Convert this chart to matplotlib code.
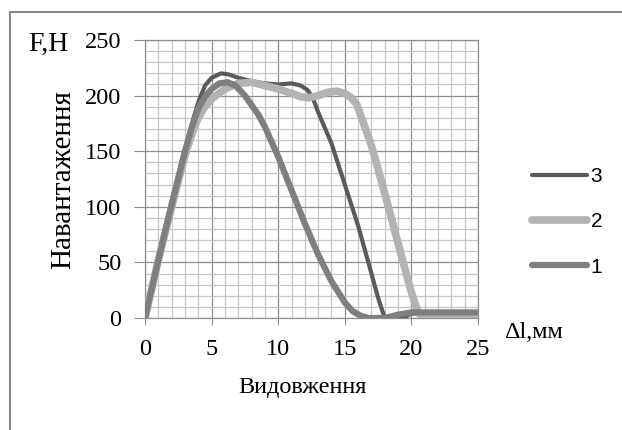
import matplotlib
matplotlib.use("Agg")
import matplotlib.pyplot as plt
from matplotlib.ticker import MultipleLocator

# series (x in mm, y in N)
x3 = [0, 1, 2, 3, 3.5, 4, 4.5, 5, 5.7, 6.3, 7, 8, 9, 10, 11, 11.7, 12.2, 12.6, 13, 14, 15, 16, 17, 17.5, 18, 18.7, 19.5, 20, 21, 25]
y3 = [0, 52, 102, 150, 174, 194, 209, 216, 220, 219, 216, 213, 211, 210, 211, 209, 205, 198, 185, 157, 120, 83, 40, 18, 0, -2, 1, 4, 5, 5]

x2 = [0, 1, 2, 3, 3.5, 4, 4.5, 5, 6, 7, 8, 9, 10, 11, 11.7, 12.3, 13, 13.7, 14.4, 15, 15.5, 15.9, 16.5, 17, 17.5, 18, 18.5, 19, 19.5, 20, 20.5, 20.8, 21.5, 24.5, 25]
y2 = [0, 52, 100, 146, 165, 180, 190, 197, 206, 211, 212, 209, 206, 202, 199, 198, 200, 203, 204, 202, 198, 192, 172, 155, 134, 112, 90, 67, 45, 23, 5, 1, 3, 3, 0]

x1 = [0, 1, 2, 3, 3.5, 4, 4.5, 5, 5.6, 6.2, 6.8, 7.5, 8.5, 9, 10, 11, 12, 13, 14, 15, 15.6, 16.2, 16.8, 18, 19, 20, 25]
y1 = [0, 52, 102, 150, 171, 188, 199, 206, 211, 212, 209, 200, 183, 172, 145, 115, 85, 57, 33, 14, 6, 2, 0, 0, 3, 5, 5]

series_names = ["3", "2", "1"]

fig = plt.figure(figsize=(6.22, 4.30), dpi=100)
ax = fig.add_axes([145 / 622, 1 - 318 / 430, 333 / 622, 278 / 430])

ax.plot(x3, y3, color="#5a5a5a", lw=3, label=series_names[0], solid_capstyle="round", solid_joinstyle="round", zorder=3)
ax.plot(x2, y2, color="#b3b3b3", lw=5.5, label=series_names[1], solid_capstyle="round", solid_joinstyle="round", zorder=4)
ax.plot(x1, y1, color="#7f7f7f", lw=4.5, label=series_names[2], solid_capstyle="round", solid_joinstyle="round", zorder=5)

ax.set_xlim(0, 25)
ax.set_ylim(0, 250)
ax.xaxis.set_major_locator(MultipleLocator(5))
ax.xaxis.set_minor_locator(MultipleLocator(1))
ax.yaxis.set_major_locator(MultipleLocator(50))
ax.yaxis.set_minor_locator(MultipleLocator(10))
ax.grid(which="minor", color="#c6c6c6", lw=0.9)
ax.grid(which="major", color="#8f8f8f", lw=0.9)
ax.set_axisbelow(True)
for s in ax.spines.values():
    s.set_color("#8f8f8f")
    s.set_linewidth(0.9)
ax.tick_params(which="major", axis="y", length=8, color="#8f8f8f", pad=9)
ax.tick_params(which="major", axis="x", length=5, color="#8f8f8f", pad=10)
ax.tick_params(which="minor", length=0)
for lab in ax.get_xticklabels() + ax.get_yticklabels():
    lab.set_family("Liberation Serif")
    lab.set_fontsize(17.5)

serif = dict(family="Liberation Serif", color="black")
fig.text(28 / 622, 1 - 44 / 430, "F,H", va="center", ha="left", fontsize=20, **serif)
fig.text(63 / 622, 1 - 180 / 430, "Навантаження", rotation=90, va="center", ha="center", fontsize=21, **serif)
fig.text(302 / 622, 1 - 388 / 430, "Видовження", va="center", ha="center", fontsize=17.5, **serif)
fig.text(504 / 622, 1 - 333 / 430, "Δl,мм", va="center", ha="left", fontsize=17.5, **serif)

leg = fig.legend(loc="center left", bbox_to_anchor=(524 / 622, 1 - 222 / 430), frameon=False,
                 prop=dict(family="Liberation Sans", size=15), handlelength=2.6,
                 handletextpad=0.2, labelspacing=1.25, borderaxespad=0)

# frame visible on left and top edges only (picture is cropped)
fig.add_artist(plt.Line2D([10 / 622, 10 / 622], [0, 1 - 12 / 430], transform=fig.transFigure, color="#8a8a8a", lw=1.5))
fig.add_artist(plt.Line2D([10 / 622, 1], [1 - 12 / 430, 1 - 12 / 430], transform=fig.transFigure, color="#8a8a8a", lw=1.5))

fig.savefig("out.png", dpi=100)
